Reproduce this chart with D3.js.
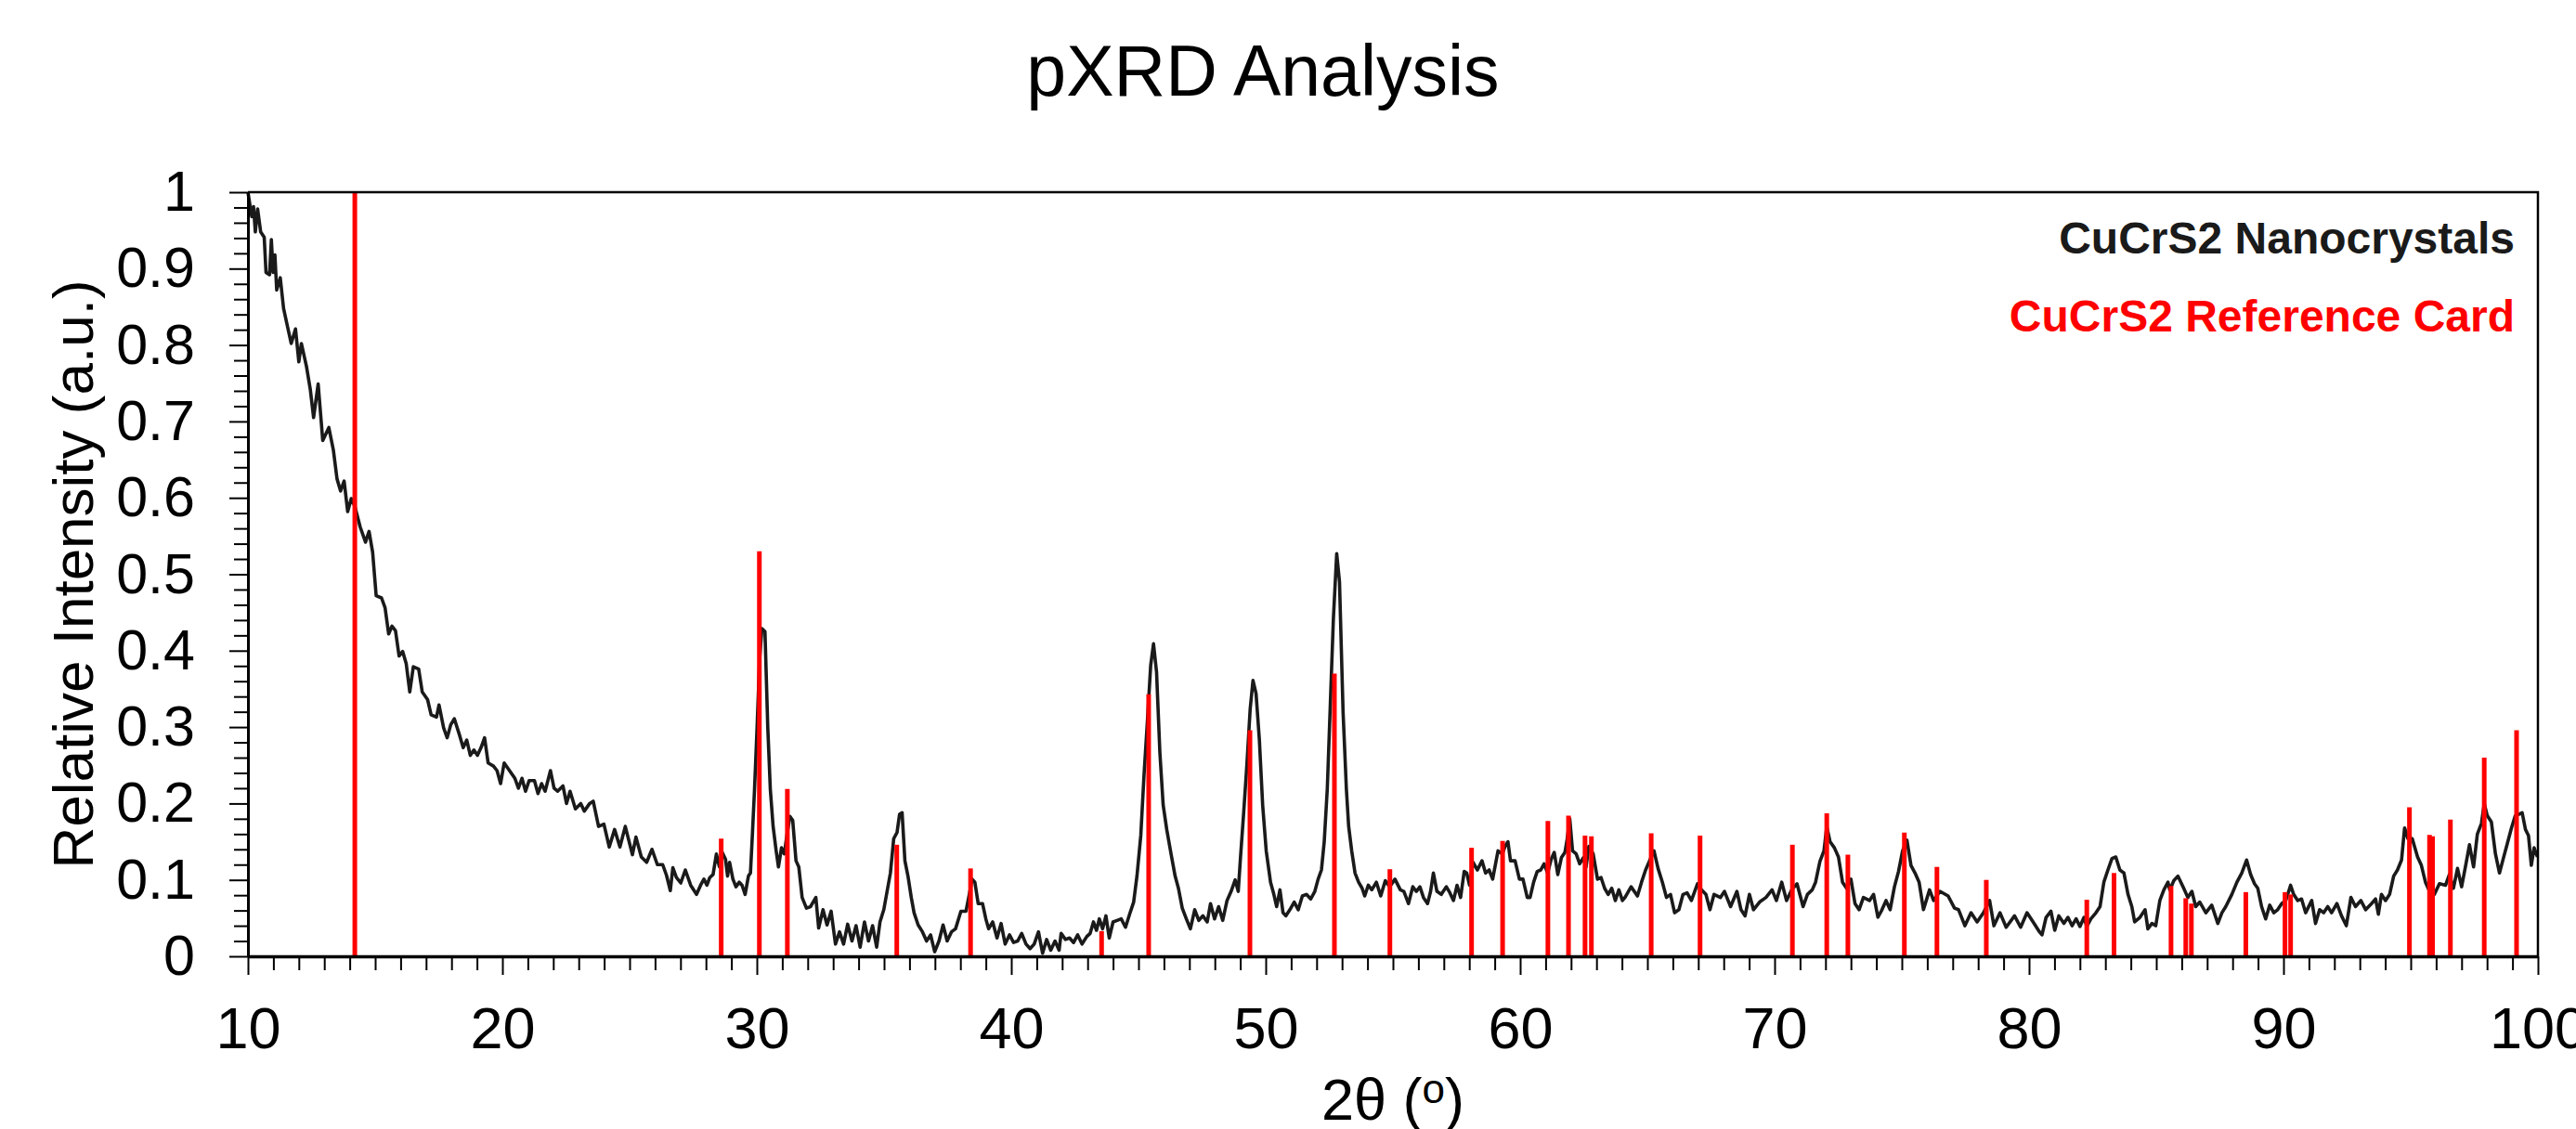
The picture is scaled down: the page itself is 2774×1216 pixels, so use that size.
<!DOCTYPE html>
<html><head><meta charset="utf-8">
<script src="https://cdn.jsdelivr.net/npm/d3@7"></script>
<style>
body{margin:0;background:#fff}
svg{display:block}
text{font-family:"Liberation Sans",Arial,Helvetica,sans-serif}
</style>
</head><body>
<svg id="chart" width="2774" height="1216"></svg>
<script>
// ---- data ----
const patternAngle = [
10.0,10.15,10.22,10.29,10.38,10.5,10.64,10.71,10.85,10.92,10.99,11.06,11.13,11.27,11.4,11.55,11.7,11.87,12.0,12.1,
12.3,12.45,12.58,12.76,12.94,13.18,13.36,13.5,13.64,13.78,13.92,14.06,14.2,14.41,14.62,14.76,14.9,15.04,15.25,15.39,
15.53,15.66,15.8,15.94,16.08,16.22,16.36,16.5,16.71,16.85,17.06,17.2,17.41,17.51,17.69,17.83,17.97,18.11,18.32,18.46,
18.6,18.74,18.88,19.02,19.16,19.3,19.44,19.65,19.79,19.93,20.07,20.28,20.49,20.63,20.77,20.91,21.05,21.26,21.4,21.54,
21.68,21.89,22.03,22.17,22.38,22.52,22.66,22.87,23.08,23.22,23.43,23.57,23.78,23.99,24.2,24.41,24.62,24.83,25.11,25.25,
25.46,25.67,25.88,26.09,26.3,26.45,26.6,26.7,26.84,27.01,27.19,27.4,
27.63,27.79,27.92,28.04,28.15,28.28,28.41,28.53,28.64,28.77,28.85,28.93,29.06,29.18,29.31,29.42,29.54,29.67,29.75,29.83,
29.91,30.01,30.11,30.2,30.32,30.43,30.53,30.64,30.76,30.85,30.97,31.08,31.18,31.3,31.41,31.54,31.65,31.78,31.95,32.11,
32.32,32.43,32.6,32.76,32.92,33.09,33.25,33.41,33.57,33.74,33.9,34.06,34.23,34.39,34.55,34.71,34.84,34.99,35.12,35.25,
35.38,35.51,35.61,35.71,35.82,35.94,36.07,36.18,36.34,36.51,36.67,36.83,36.99,37.16,37.32,37.48,37.65,37.81,38.02,38.22,
38.35,38.46,38.57,38.7,38.87,39.0,39.11,39.27,39.44,39.6,39.76,39.93,40.09,40.25,40.41,40.58,40.74,40.9,41.07,41.23,
41.39,41.55,41.72,41.88,41.96,42.13,42.29,42.45,42.61,42.78,42.97,43.1,43.23,43.35,43.46,43.59,43.72,43.85,44.0,44.16,
44.32,44.49,44.65,44.81,44.94,45.09,45.22,45.35,45.48,45.59,45.71,45.84,45.97,46.11,46.28,46.44,46.57,46.72,46.88,47.04,
47.21,47.37,47.53,47.7,47.83,47.99,48.15,48.31,48.48,48.64,48.8,48.92,49.01,49.13,49.26,49.39,49.5,49.62,49.75,49.88,
50.02,50.19,50.32,50.43,50.56,50.68,50.79,50.95,51.12,51.28,51.44,51.6,51.77,51.93,52.06,52.19,52.3,52.42,52.55,52.66,
52.79,52.9,53.04,53.17,53.26,53.38,53.51,53.65,53.79,53.89,54.03,54.17,54.35,54.52,54.7,54.87,55.08,55.29,55.43,55.61,
55.78,55.92,56.06,56.2,56.36,56.48,56.59,56.73,56.9,57.1,57.24,57.38,57.52,57.66,57.8,57.9,58.01,58.15,58.32,58.5,
58.64,58.78,58.92,59.13,59.3,59.41,59.52,59.62,59.8,59.97,60.11,60.28,60.39,60.53,60.67,60.81,60.94,61.08,61.22,61.34,
61.48,61.62,61.76,61.85,61.95,62.06,62.2,62.34,62.48,62.59,62.7,62.87,63.04,63.18,63.32,63.46,63.6,63.74,63.88,64.02,
64.12,64.36,64.61,64.77,64.93,65.1,65.26,65.42,65.59,65.75,65.91,66.07,66.24,66.4,66.56,66.73,66.97,67.13,67.3,67.46,
67.62,67.87,68.03,68.27,68.52,68.68,68.84,69.01,69.17,69.41,69.66,69.9,70.07,70.28,70.47,70.67,70.88,71.12,71.29,71.48,
71.61,71.78,71.94,72.05,72.18,72.35,72.51,72.67,72.83,73.0,73.16,73.32,73.49,73.73,73.89,74.06,74.22,74.38,74.54,74.71,
74.87,75.03,75.2,75.36,75.52,75.68,75.85,76.09,76.25,76.5,76.82,77.07,77.23,77.48,77.72,77.96,78.21,78.45,78.62,78.86,
79.1,79.43,79.67,79.92,80.16,80.41,80.51,80.67,80.86,81.01,81.17,81.37,81.53,81.69,81.85,82.0,82.16,82.27,82.43,82.63,
82.79,82.94,83.1,83.26,83.41,83.57,83.73,83.89,84.04,84.15,84.36,84.56,84.67,84.83,84.98,85.14,85.3,85.46,85.53,85.69,
85.85,86.08,86.24,86.4,86.55,86.71,86.95,87.18,87.42,87.58,87.73,87.97,88.17,88.36,88.55,88.71,88.86,88.99,89.14,89.3,
89.46,89.62,89.77,89.93,90.09,90.28,90.4,90.56,90.71,90.87,91.11,91.26,91.42,91.58,91.74,91.89,92.1,92.28,92.47,92.65,
92.83,93.04,93.23,93.46,93.62,93.73,93.85,94.01,94.17,94.33,94.48,94.64,94.76,94.89,95.06,95.27,95.42,95.58,95.74,95.93,
96.13,96.37,96.52,96.68,96.84,97.0,97.15,97.31,97.47,97.62,97.78,97.89,98.01,98.17,98.33,98.49,98.64,98.8,98.96,99.11,
99.27,99.38,99.51,99.63,99.74,99.85,99.98
];
const patternIntensity = [
1.0,0.968,0.981,0.948,0.978,0.948,0.941,0.895,0.892,0.938,0.895,0.918,0.872,0.888,0.848,0.825,0.802,0.821,0.778,0.802,
0.772,0.742,0.705,0.749,0.675,0.692,0.662,0.625,0.609,0.622,0.582,0.599,0.589,0.562,0.542,0.556,0.529,0.472,0.469,0.456,
0.422,0.432,0.426,0.393,0.399,0.383,0.346,0.379,0.376,0.346,0.336,0.316,0.313,0.329,0.299,0.286,0.303,0.311,0.289,0.273,
0.283,0.263,0.27,0.263,0.273,0.286,0.253,0.249,0.243,0.226,0.253,0.243,0.233,0.22,0.233,0.216,0.23,0.23,0.213,0.226,
0.216,0.243,0.22,0.216,0.223,0.2,0.216,0.193,0.2,0.19,0.2,0.203,0.17,0.173,0.143,0.166,0.143,0.17,0.133,0.156,
0.13,0.123,0.14,0.12,0.12,0.106,0.086,0.116,0.103,0.096,0.113,0.093,
0.081,0.093,0.101,0.093,0.103,0.107,0.134,0.117,0.136,0.127,0.105,0.123,0.101,0.091,0.097,0.093,0.081,0.105,0.109,0.162,
0.219,0.3,0.389,0.429,0.425,0.3,0.219,0.17,0.138,0.117,0.142,0.134,0.158,0.183,0.178,0.125,0.117,0.077,0.063,0.065,
0.077,0.037,0.061,0.041,0.059,0.016,0.032,0.016,0.042,0.02,0.04,0.012,0.045,0.02,0.04,0.012,0.045,0.061,0.085,0.109,
0.154,0.162,0.186,0.188,0.125,0.105,0.077,0.057,0.041,0.032,0.02,0.028,0.006,0.02,0.041,0.02,0.032,0.036,0.059,0.059,
0.081,0.101,0.097,0.069,0.069,0.049,0.036,0.045,0.024,0.043,0.016,0.028,0.018,0.02,0.03,0.016,0.01,0.016,0.032,0.004,
0.022,0.008,0.02,0.008,0.03,0.022,0.024,0.018,0.028,0.016,0.026,0.03,0.045,0.034,0.049,0.036,0.053,0.024,0.045,0.047,
0.049,0.038,0.055,0.071,0.105,0.158,0.239,0.308,0.381,0.409,0.372,0.267,0.198,0.166,0.134,0.105,0.089,0.063,0.049,0.036,
0.061,0.047,0.053,0.045,0.069,0.049,0.065,0.047,0.073,0.085,0.1,0.085,0.13,0.186,0.251,0.324,0.361,0.344,0.284,0.198,
0.138,0.097,0.081,0.065,0.087,0.057,0.053,0.061,0.071,0.061,0.079,0.081,0.075,0.085,0.101,0.113,0.15,0.219,0.34,0.442,
0.527,0.49,0.32,0.219,0.17,0.138,0.109,0.097,0.089,0.079,0.093,0.087,0.097,0.079,0.099,0.091,0.101,0.087,0.085,0.069,
0.091,0.085,0.091,0.077,0.069,0.085,0.109,0.085,0.081,0.091,0.083,0.073,0.093,0.077,0.111,0.109,0.093,0.123,0.113,0.125,
0.109,0.113,0.101,0.138,0.134,0.144,0.15,0.125,0.125,0.101,0.101,0.077,0.077,0.097,0.111,0.113,0.121,0.109,0.127,0.136,
0.107,0.129,0.136,0.154,0.18,0.138,0.134,0.121,0.129,0.117,0.144,0.134,0.101,0.103,0.089,0.081,0.089,0.073,0.087,0.073,
0.077,0.091,0.079,0.097,0.113,0.126,0.138,0.115,0.097,0.077,0.081,0.057,0.061,0.081,0.083,0.073,0.095,0.087,0.081,0.061,
0.081,0.077,0.085,0.065,0.085,0.061,0.053,0.081,0.061,0.071,0.077,0.087,0.073,0.097,0.073,0.087,0.095,0.065,0.081,0.087,
0.097,0.124,0.138,0.17,0.15,0.142,0.13,0.097,0.089,0.101,0.069,0.061,0.077,0.073,0.081,0.051,0.061,0.073,0.061,0.091,
0.111,0.138,0.152,0.119,0.109,0.097,0.061,0.087,0.073,0.085,0.079,0.063,0.061,0.04,0.057,0.045,0.057,0.073,0.04,0.057,
0.038,0.053,0.038,0.057,0.045,0.032,0.028,0.051,0.059,0.034,0.053,0.043,0.051,0.04,0.049,0.039,0.051,0.039,0.049,0.057,
0.065,0.097,0.113,0.128,0.13,0.113,0.109,0.081,0.065,0.045,0.051,0.061,0.036,0.043,0.04,0.073,0.087,0.097,0.087,0.099,
0.105,0.089,0.077,0.085,0.065,0.071,0.057,0.067,0.043,0.057,0.065,0.081,0.097,0.109,0.126,0.107,0.095,0.089,0.065,0.049,
0.067,0.057,0.061,0.069,0.073,0.093,0.081,0.073,0.075,0.057,0.073,0.043,0.061,0.057,0.065,0.057,0.069,0.053,0.04,0.077,
0.065,0.073,0.061,0.069,0.075,0.055,0.081,0.073,0.081,0.105,0.113,0.126,0.168,0.154,0.154,0.13,0.119,0.097,0.085,0.081,
0.095,0.093,0.107,0.089,0.115,0.091,0.117,0.146,0.117,0.16,0.174,0.2,0.184,0.176,0.134,0.109,0.128,0.148,0.168,0.184,
0.186,0.188,0.166,0.158,0.119,0.142,0.13
];
const refAngle = [14.2,28.6,30.1,31.2,35.5,38.4,43.55,45.4,49.38,52.7,54.88,58.09,59.31,61.09,61.9,62.55,62.8,65.15,67.07,70.7,
72.05,72.88,75.1,76.38,78.32,82.27,83.34,85.58,86.16,86.38,88.52,90.06,90.28,94.95,95.74,95.86,96.56,97.89,99.16];
const refIntensity = [1.0,0.154,0.53,0.219,0.146,0.115,0.033,0.343,0.296,0.37,0.114,0.142,0.151,0.177,0.184,0.158,0.157,0.161,0.158,0.146,
0.187,0.133,0.162,0.117,0.1,0.074,0.109,0.092,0.076,0.069,0.084,0.084,0.081,0.195,0.159,0.157,0.179,0.26,0.296];
const xTickValues = [10,20,30,40,50,60,70,80,90,100];
const xTickLabels = ["10","20","30","40","50","60","70","80","90","100"];
const yTickValues = [0,0.1,0.2,0.3,0.4,0.5,0.6,0.7,0.8,0.9,1];
const yTickLabels = ["0","0.1","0.2","0.3","0.4","0.5","0.6","0.7","0.8","0.9","1"];
const seriesNames = ["CuCrS2 Nanocrystals","CuCrS2 Reference Card"];
const seriesColors = ["#1a1a1a","#ff0000"];
const chartTitle = "pXRD Analysis";
const xTitle = "2θ (";
const yTitle = "Relative Intensity (a.u.)";

// ---- layout ----
const L = 267, R = 2733, T = 207, B = 1030;
const svg = d3.select("#chart");
const x = d3.scaleLinear().domain([10,100]).range([L,R]);
const y = d3.scaleLinear().domain([0,1]).range([B,T]);

// title
svg.append("text").attr("x",1360).attr("y",103).attr("text-anchor","middle")
  .attr("font-size",77).attr("fill","#000").text(chartTitle);

// series 1: pattern line
const pts = patternAngle.map((a,i)=>[a,patternIntensity[i]]);
svg.append("path").datum(pts)
  .attr("fill","none").attr("stroke",seriesColors[0]).attr("stroke-width",3.6)
  .attr("stroke-linejoin","round")
  .attr("d",d3.line().x(d=>x(d[0])).y(d=>y(d[1])));

// series 2: reference sticks
svg.append("g").selectAll("line").data(refAngle.map((a,i)=>[a,refIntensity[i]])).join("line")
  .attr("x1",d=>x(d[0])).attr("x2",d=>x(d[0]))
  .attr("y1",y(0)).attr("y2",d=>y(d[1]))
  .attr("stroke",seriesColors[1]).attr("stroke-width",5);

// frame top/right
svg.append("path").attr("d",`M${L},${T}H${R}V${B}`).attr("fill","none")
  .attr("stroke","#000").attr("stroke-width",2.5);

// minor ticks
const xMinor = d3.range(11,100,1).filter(v=>v%10!==0);
const yMinor = d3.range(1,50,1).filter(v=>v%5!==0).map(v=>v/50);
svg.append("g").attr("transform",`translate(0,${B})`)
  .call(d3.axisBottom(x).tickValues(xMinor).tickSize(15).tickSizeOuter(0).tickFormat(""))
  .call(g=>g.select(".domain").remove())
  .call(g=>g.selectAll("line").attr("stroke-width",2));
svg.append("g").attr("transform",`translate(${L},0)`)
  .call(d3.axisLeft(y).tickValues(yMinor).tickSize(15).tickSizeOuter(0).tickFormat(""))
  .call(g=>g.select(".domain").remove())
  .call(g=>g.selectAll("line").attr("stroke-width",2));

// major axes
const gx = svg.append("g").attr("transform",`translate(0,${B})`)
  .call(d3.axisBottom(x).tickValues(xTickValues).tickSize(20).tickSizeOuter(0).tickPadding(34)
    .tickFormat((d,i)=>xTickLabels[i]));
gx.select(".domain").attr("stroke-width",3.5);
gx.selectAll(".tick line").attr("stroke-width",2);
gx.selectAll("text").attr("font-size",63).attr("fill","#000")
  .style("font-family",'"Liberation Sans",Arial,sans-serif');

const gy = svg.append("g").attr("transform",`translate(${L},0)`)
  .call(d3.axisLeft(y).tickValues(yTickValues).tickSize(20).tickSizeOuter(0).tickPadding(37)
    .tickFormat((d,i)=>yTickLabels[i]));
gy.select(".domain").attr("stroke-width",3);
gy.selectAll(".tick line").attr("stroke-width",2);
gy.selectAll("text").attr("font-size",61).attr("fill","#000")
  .style("font-family",'"Liberation Sans",Arial,sans-serif');

// axis titles
const xt = svg.append("text").attr("x",(L+R)/2).attr("y",1206).attr("text-anchor","middle")
  .attr("font-size",63).attr("fill","#000");
xt.append("tspan").text(xTitle);
xt.append("tspan").attr("font-size",44).attr("dy",-18).text("o");
xt.append("tspan").attr("dy",18).text(")");

svg.append("text").attr("transform",`translate(100,${(T+B)/2}) rotate(-90)`)
  .attr("text-anchor","middle").attr("font-size",62).attr("fill","#000").text(yTitle);

// legend
const lg = svg.append("g");
seriesNames.forEach((n,i)=>{
  lg.append("text").attr("x",2708).attr("y",273+i*84).attr("text-anchor","end")
    .attr("font-size",48).attr("font-weight","bold").attr("fill",seriesColors[i]).text(n);
});
</script>
</body></html>
